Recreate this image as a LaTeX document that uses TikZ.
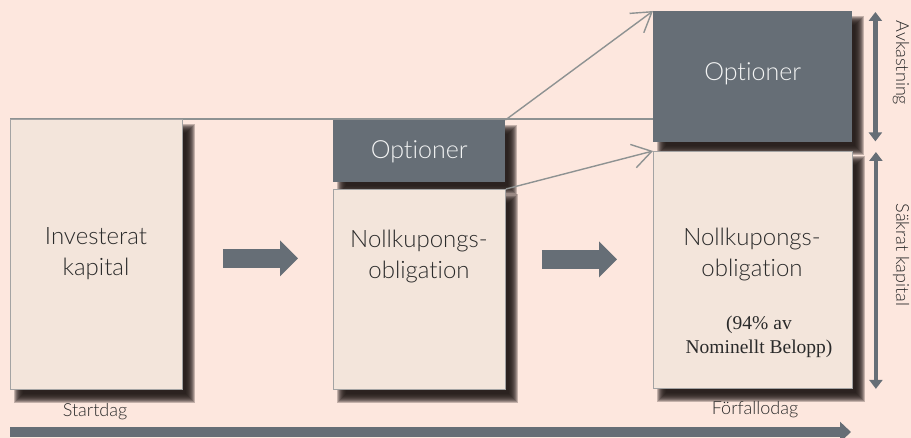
\documentclass[tikz,border=0pt]{standalone}
\usepackage{fontspec}
\setmainfont{Lato Light}[Ligatures=NoCommon]
\newfontfamily\notefont{Liberation Serif}
\usetikzlibrary{arrows.meta,calc}

\definecolor{bgpeach}{HTML}{FDE7DE}
\definecolor{boxfill}{HTML}{F3E5DB}
\definecolor{boxline}{HTML}{A3A3A3}
\definecolor{slate}{HTML}{666E76}
\definecolor{linkgray}{HTML}{8E9292}
\definecolor{inktext}{HTML}{2A2A2A}
\definecolor{shadowink}{HTML}{221A18}

\pgfdeclarelayer{shadowlayer}
\pgfsetlayers{shadowlayer,main}

% soft drop shadow below and right of a named box
\newcommand{\boxshadow}[1]{%
  \begin{pgfonlayer}{shadowlayer}
    \foreach \k in {0,...,9}{%
      \fill[shadowink, opacity=0.26]
        ($(#1.north west)+({4+\k},{5+\k})$) rectangle
        ($(#1.south east)+({12-\k},{13-\k})$);
    }
  \end{pgfonlayer}}

\tikzset{
  paperbox/.style={draw=boxline, line width=0.9pt, fill=boxfill,
      anchor=north west, inner sep=0pt},
  darkbox/.style={fill=slate, anchor=north west, inner sep=0pt},
  boxtext/.style={text=inktext, font=\fontsize{24}{31}\selectfont, align=center},
  opttext/.style={text=white!92!slate, font=\fontsize{25}{28}\selectfont},
  sidetext/.style={text=inktext, font=\fontsize{18}{20}\selectfont, rotate=-90},
  daytext/.style={text=inktext, font=\fontsize{18}{20}\selectfont},
  link/.style={draw=linkgray, line width=1.4pt,
      -{Straight Barb[length=19pt,width=24pt,line width=1.4pt]}},
  fatarrow/.style={draw=slate, line width=19pt, -{Triangle[length=18pt,width=35pt]}},
  timeline/.style={draw=slate, line width=10pt, -{Triangle[length=11pt,width=20pt]}},
  span/.style={draw=slate, line width=4.5pt,
      {Triangle[length=9pt,width=13pt]}-{Triangle[length=9pt,width=13pt]}},
}

\begin{document}
\begin{tikzpicture}[x=1pt,y=-1pt]
  % canvas
  \begin{pgfonlayer}{shadowlayer}
    \fill[bgpeach] (0,0) rectangle (911,438);
  \end{pgfonlayer}
  \useasboundingbox (0,0) rectangle (911,438);
  \clip (0,0) rectangle (911,438);

  % guide line along the top of the capital
  \coordinate (topleft) at (10,119);
  \coordinate (topright) at (653,119);
  \draw[linkgray, line width=1.4pt] (topleft) -- (topright);

  % invested capital
  \node[paperbox, minimum width=172pt, minimum height=270pt] (inv) at (10,119) {};
  % zero-coupon bond with options on top
  \node[darkbox, minimum width=172pt, minimum height=62pt] (opt1) at (333,120) {};
  \node[paperbox, minimum width=172pt, minimum height=200pt] (nk1) at (333,189) {};
  % at maturity
  \node[darkbox, minimum width=199pt, minimum height=131pt] (opt2) at (653,11) {};
  \node[paperbox, minimum width=199pt, minimum height=237pt] (nk2) at (653,151) {};

  \boxshadow{inv}
  \boxshadow{opt1}
  \boxshadow{nk1}
  \boxshadow{opt2}
  \boxshadow{nk2}

  % texts in boxes
  \node[boxtext] at (96,254) {Investerat\\kapital};
  \node[opttext] at ($(opt1.center)+(0,1)$) {Optioner};
  \node[boxtext] at (419,256) {Nollkupongs-\\obligation};
  \node[opttext] at ($(opt2.center)+(0,-3)$) {Optioner};
  \node[boxtext] at (752,254) {Nollkupongs-\\obligation};
  \node[text=inktext, font=\notefont\fontsize{19.5}{24}\selectfont, align=center]
    at (759,337) {(94\% av\\Nominellt Belopp)};

  % growth links
  \draw[link] (opt1.north east) -- (opt2.north west);
  \draw[link] (nk1.north east) -- (nk2.north west);

  % step arrows
  \draw[fatarrow] ($(inv.east)+(40,4)$) -- ($(nk1.west |- inv.east)+(-35,4)$);
  \draw[fatarrow] ($(nk1.east |- inv.east)+(36,5)$) -- ($(nk2.west |- inv.east)+(-36,5)$);

  % spans on the right
  \draw[span] ($(opt2.north east)+(23,1)$) -- ($(opt2.south east)+(23,-1)$);
  \draw[span] ($(nk2.north east)+(23,1)$) -- ($(nk2.south east)+(23,0)$);
  \node[sidetext] (avk) at (901,63) {Avkastning};
  \node[sidetext] (sak) at (901,255) {Säkrat kapital};

  % time axis
  \coordinate (t0) at (10,432);
  \coordinate (t1) at (851,432);
  \draw[timeline] (t0) -- (t1);
  \node[daytext] (start) at (95,412) {Startdag};
  \node[daytext] (end) at (755,410) {Förfallodag};
\end{tikzpicture}
\end{document}
